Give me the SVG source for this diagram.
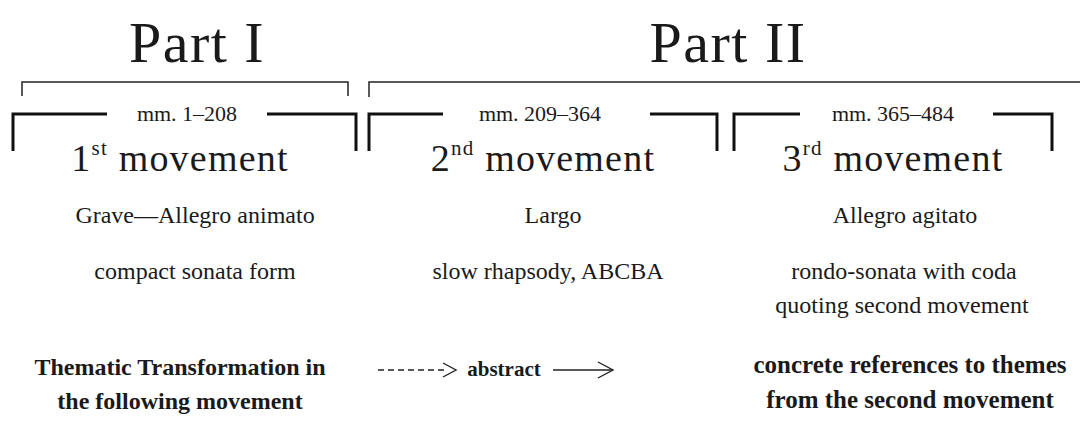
<svg xmlns="http://www.w3.org/2000/svg" width="1080" height="436" viewBox="0 0 1080 436">
<style>
text{font-family:"Liberation Serif","Times New Roman",serif;fill:#1a1a1a;text-anchor:middle}
.part{font-size:58px;letter-spacing:1.5px}
.mm{font-size:22px}
.mv{font-size:38px;letter-spacing:1.2px}
.sup{font-size:21px}
.t{font-size:24px}
.b{font-size:24px;font-weight:bold}
.thin{stroke:#222;stroke-width:1.5;fill:none}
.thick{stroke:#111;stroke-width:3;fill:none}
</style>
<g id="part1"><text class="part" x="197" y="62">Part I</text>
<path class="thin" d="M22,96 V82 H348 V96"/></g>
<g id="part2"><text class="part" x="728" y="62">Part II</text>
<path class="thin" d="M369,97 V82 H1080"/></g>
<g id="mov1">
<path class="thick" d="M13,151 V114 H107 M267,114 H356 V151"/>
<text class="mm" x="187" y="121">mm. 1–208</text>
<text class="mv" x="180" y="171">1<tspan class="sup" dy="-16">st</tspan><tspan dy="16"> movement</tspan></text>
<text class="t" x="195" y="223">Grave—Allegro animato</text>
<text class="t" x="195" y="279">compact sonata form</text>
</g>
<g id="mov2">
<path class="thick" d="M369,151 V114 H443 M650,114 H717 V151"/>
<text class="mm" x="540" y="121">mm. 209–364</text>
<text class="mv" x="543" y="171">2<tspan class="sup" dy="-16">nd</tspan><tspan dy="16"> movement</tspan></text>
<text class="t" x="553" y="223">Largo</text>
<text class="t" x="548" y="279">slow rhapsody, ABCBA</text>
</g>
<g id="mov3">
<path class="thick" d="M734,151 V114 H800 M993,114 H1052 V151"/>
<text class="mm" x="893" y="121">mm. 365–484</text>
<text class="mv" x="893" y="171">3<tspan class="sup" dy="-16">rd</tspan><tspan dy="16"> movement</tspan></text>
<text class="t" x="905" y="223">Allegro agitato</text>
<text class="t" x="904" y="279">rondo-sonata with coda</text>
<text class="t" x="902" y="313">quoting second movement</text>
</g>
<g id="legend">
<text class="b" x="180" y="375">Thematic Transformation in</text>
<text class="b" x="180" y="409">the following movement</text>
</g>
<g id="abstract"><text class="b" x="504" y="376" style="font-size:21px">abstract</text></g>
<g id="concrete">
<text class="b" x="910" y="373" style="font-size:25px">concrete references to themes</text>
<text class="b" x="910" y="408" style="font-size:25px">from the second movement</text>
</g>
<g id="connectors">
<path d="M378,370 H448" stroke="#222" stroke-width="1.4" stroke-dasharray="6,4" fill="none"/>
<path d="M443,363 L456,370 L443,377" stroke="#222" stroke-width="1.4" fill="none"/>
<path d="M553,370 H612" stroke="#222" stroke-width="1.4" fill="none"/>
<path d="M598,362 L613,370 L598,378" stroke="#222" stroke-width="1.4" fill="none"/>
</g>
</svg>
